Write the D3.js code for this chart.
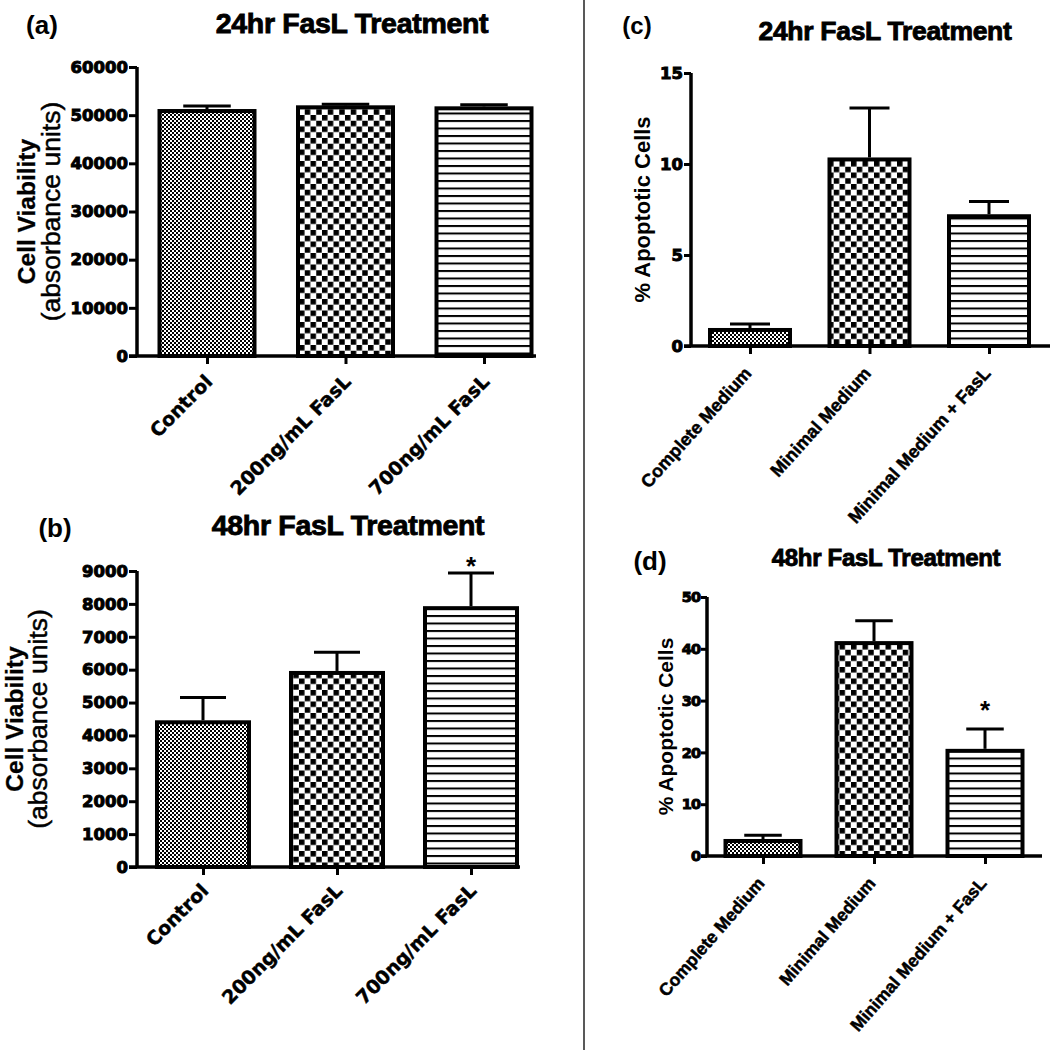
<!DOCTYPE html>
<html><head><meta charset="utf-8">
<script src="https://cdn.jsdelivr.net/npm/d3@7"></script>
<style>
html,body{margin:0;padding:0;background:#fff;}
svg{display:block;}
</style></head>
<body>
<svg id="chart" width="1050" height="1050"></svg>
<script>
// ---------- data ----------
const catsAB = ["Control", "200ng/mL FasL", "700ng/mL FasL"];
const catsCD = ["Complete Medium", "Minimal Medium", "Minimal Medium + FasL"];
const valuesA = [50860, 51630, 51420];
const errorsA = [1040, 620, 750];
const valuesB = [4400, 5900, 7870];
const errorsB = [750, 630, 1070];
const valuesC = [0.88, 10.25, 7.13];
const errorsC = [0.33, 2.83, 0.81];
const valuesD = [2.9, 41.1, 20.3];
const errorsD = [1.1, 4.3, 4.2];
const ticksA = [0, 10000, 20000, 30000, 40000, 50000, 60000];
const ticksB = [0, 1000, 2000, 3000, 4000, 5000, 6000, 7000, 8000, 9000];
const ticksC = [0, 5, 10, 15];
const ticksD = [0, 10, 20, 30, 40, 50];
const sigB = [false, false, true];
const sigD = [false, false, true];
const patterns = ["fine", "coarse", "hlines"];

const svg = d3.select("#chart");
const defs = svg.append("defs");
// fine checker
const pf = defs.append("pattern").attr("id","fine").attr("patternUnits","userSpaceOnUse")
  .attr("width",4).attr("height",4);
pf.append("rect").attr("width",4).attr("height",4).attr("fill","#fff");
pf.append("rect").attr("width",2).attr("height",2).attr("fill","#000");
pf.append("rect").attr("x",2).attr("y",2).attr("width",2).attr("height",2).attr("fill","#000");
// coarse checker
const pc = defs.append("pattern").attr("id","coarse").attr("patternUnits","userSpaceOnUse")
  .attr("width",11.5).attr("height",11.5);
pc.append("rect").attr("width",11.5).attr("height",11.5).attr("fill","#fff");
pc.append("rect").attr("width",5.5).attr("height",5.5).attr("fill","#000");
pc.append("rect").attr("x",5.75).attr("y",5.75).attr("width",5.5).attr("height",5.5).attr("fill","#000");
// horizontal lines
const ph = defs.append("pattern").attr("id","hlines").attr("patternUnits","userSpaceOnUse")
  .attr("width",10).attr("height",7.5);
ph.append("rect").attr("width",10).attr("height",7.5).attr("fill","#fff");
ph.append("rect").attr("y",0).attr("width",10).attr("height",2).attr("fill","#000");

// divider
svg.append("line").attr("x1",584).attr("x2",584).attr("y1",0).attr("y2",1050)
  .attr("stroke","#222").attr("stroke-width",1.5);

const FONT = "'Liberation Sans', Arial, sans-serif";
const TICKFONT = "'DejaVu Sans', sans-serif";

function panel(cfg) {
  const g = svg.append("g");
  const y = d3.scaleLinear().domain([cfg.ticks[0], cfg.ticks[cfg.ticks.length-1]])
    .range([cfg.y0, cfg.y1]);
  const x = d3.scalePoint().domain(cfg.cats).range([cfg.c0, cfg.c1]);

  // bars
  g.selectAll("rect.bar").data(cfg.values).enter().append("rect")
    .attr("x", (d,i) => x(cfg.cats[i]) - cfg.bw/2)
    .attr("y", d => y(d))
    .attr("width", cfg.bw)
    .attr("height", d => y(0) - y(d))
    .attr("fill", (d,i) => `url(#${patterns[i]})`)
    .attr("stroke","#000").attr("stroke-width",4);

  // error bars
  cfg.values.forEach((v,i) => {
    const cx = x(cfg.cats[i]);
    const top = y(v + cfg.errors[i]);
    g.append("line").attr("x1",cx).attr("x2",cx).attr("y1",y(v)-2).attr("y2",top)
      .attr("stroke","#000").attr("stroke-width",3);
    g.append("line").attr("x1",cx-cfg.bw/4).attr("x2",cx+cfg.bw/4).attr("y1",top).attr("y2",top)
      .attr("stroke","#000").attr("stroke-width",3);
    if (cfg.sig && cfg.sig[i]) {
      g.append("text").attr("x",cx).attr("y",top - cfg.starOff)
        .attr("text-anchor","middle").attr("font-family",FONT).attr("font-weight","bold")
        .attr("font-size",26).text("*");
    }
  });

  // y axis
  const ya = g.append("g").attr("transform",`translate(${cfg.ax},0)`)
    .call(d3.axisLeft(y).tickValues(cfg.ticks).tickSize(cfg.tickLen).tickPadding(1).tickFormat(d3.format("d")));
  ya.select(".domain").attr("stroke-width",3.5).attr("d",`M0,${cfg.y0+1}V${cfg.y1}`);
  ya.selectAll(".tick line").attr("stroke-width",3);
  ya.selectAll(".tick text").attr("font-family",TICKFONT).attr("font-weight","bold")
    .attr("font-size",cfg.tickFs).attr("fill","#000").attr("stroke","#000").attr("stroke-width",1)
    .attr("letter-spacing",cfg.tickLs || 0);

  // x axis
  const xa = g.append("g").attr("transform",`translate(0,${cfg.y0})`)
    .call(d3.axisBottom(x).tickSize(8).tickPadding(6));
  xa.select(".domain").attr("stroke-width",3.5).attr("d",`M${cfg.ax - cfg.tickLen},0H${cfg.xEnd}`);
  xa.selectAll(".tick line").attr("stroke-width",3);
  xa.selectAll(".tick text")
    .attr("font-family",cfg.xFont).attr("font-weight","bold").attr("font-size",cfg.xFs)
    .attr("fill","#000").attr("stroke","#000").attr("stroke-width",0.5)
    .attr("text-anchor","end").attr("dy",0).attr("y",0)
    .attr("transform",`translate(${cfg.xlDx},${cfg.xlDy}) rotate(${cfg.xRot})`);

  // titles
  g.append("text").attr("x",cfg.titleX).attr("y",cfg.titleY).attr("text-anchor","middle")
    .attr("font-family",FONT).attr("font-weight","bold").attr("font-size",cfg.titleFs)
    .attr("stroke","#000").attr("stroke-width",0.9).attr("letter-spacing",-0.3)
    .text(cfg.title);
  g.append("text").attr("x",cfg.letterX).attr("y",cfg.letterY).attr("text-anchor","middle")
    .attr("font-family",FONT).attr("font-weight","bold").attr("font-size",cfg.letterFs)
    .text(cfg.letter);

  // y label
  const yc = (cfg.y0 + cfg.y1)/2;
  cfg.ylabel.forEach((t,k) => {
    g.append("text").attr("transform",`translate(${cfg.ylabX[k]},${yc}) rotate(-90)`)
      .attr("text-anchor","middle").attr("dominant-baseline","central")
      .attr("font-family",FONT).attr("font-weight",cfg.ylabW[k]).attr("font-size",cfg.ylabFs[k])
      .attr("stroke","#000").attr("stroke-width",cfg.ylabS[k])
      .text(t);
  });
}

panel({cats:catsAB, values:valuesA, errors:errorsA, ticks:ticksA,
  y0:356, y1:67, c0:207, c1:484, bw:95, ax:137, xEnd:536, tickLen:8, tickFs:16.5,
  xFont:TICKFONT, xFs:19, xlDx:6, xlDy:27, xRot:-45,
  title:"24hr FasL Treatment", titleX:352, titleY:33, titleFs:28.5,
  letter:"(a)", letterX:42, letterY:34, letterFs:26,
  ylabel:["Cell Viability","(absorbance units)"], ylabX:[26,51], ylabW:["bold","normal"], ylabFs:[24.5,26.5], ylabS:[0.3,0.5]});

panel({cats:catsAB, values:valuesB, errors:errorsB, ticks:ticksB, sig:sigB, starOff:-2,
  y0:867, y1:571, c0:203, c1:471, bw:92, ax:137, xEnd:520, tickLen:8, tickFs:16.5,
  xFont:TICKFONT, xFs:19, xlDx:6, xlDy:25, xRot:-45,
  title:"48hr FasL Treatment", titleX:348, titleY:535, titleFs:28.5,
  letter:"(b)", letterX:55, letterY:537, letterFs:26,
  ylabel:["Cell Viability","(absorbance units)"], ylabX:[14,38], ylabW:["bold","normal"], ylabFs:[24.5,26.5], ylabS:[0.3,0.5]});

panel({cats:catsCD, values:valuesC, errors:errorsC, ticks:ticksC,
  y0:346, y1:73, c0:750, c1:989, bw:80, ax:691, xEnd:1050, tickLen:7, tickFs:16.5,
  xFont:FONT, xFs:18, xlDx:2, xlDy:28, xRot:-48,
  title:"24hr FasL Treatment", titleX:885, titleY:40, titleFs:26.5,
  letter:"(c)", letterX:637, letterY:34, letterFs:24,
  ylabel:["% Apoptotic Cells"], ylabX:[642], ylabW:["bold"], ylabFs:[22], ylabS:[0]});

panel({cats:catsCD, values:valuesD, errors:errorsD, ticks:ticksD, sig:sigD, starOff:10,
  y0:856, y1:597, c0:763, c1:985, bw:75, ax:707, xEnd:1042, tickLen:6, tickFs:14.5, tickLs:-1,
  xFont:FONT, xFs:17.5, xlDx:2, xlDy:28, xRot:-49,
  title:"48hr FasL Treatment", titleX:886, titleY:566, titleFs:24,
  letter:"(d)", letterX:650, letterY:570, letterFs:26,
  ylabel:["% Apoptotic Cells"], ylabX:[665], ylabW:["bold"], ylabFs:[21], ylabS:[0]});
</script>
</body></html>
